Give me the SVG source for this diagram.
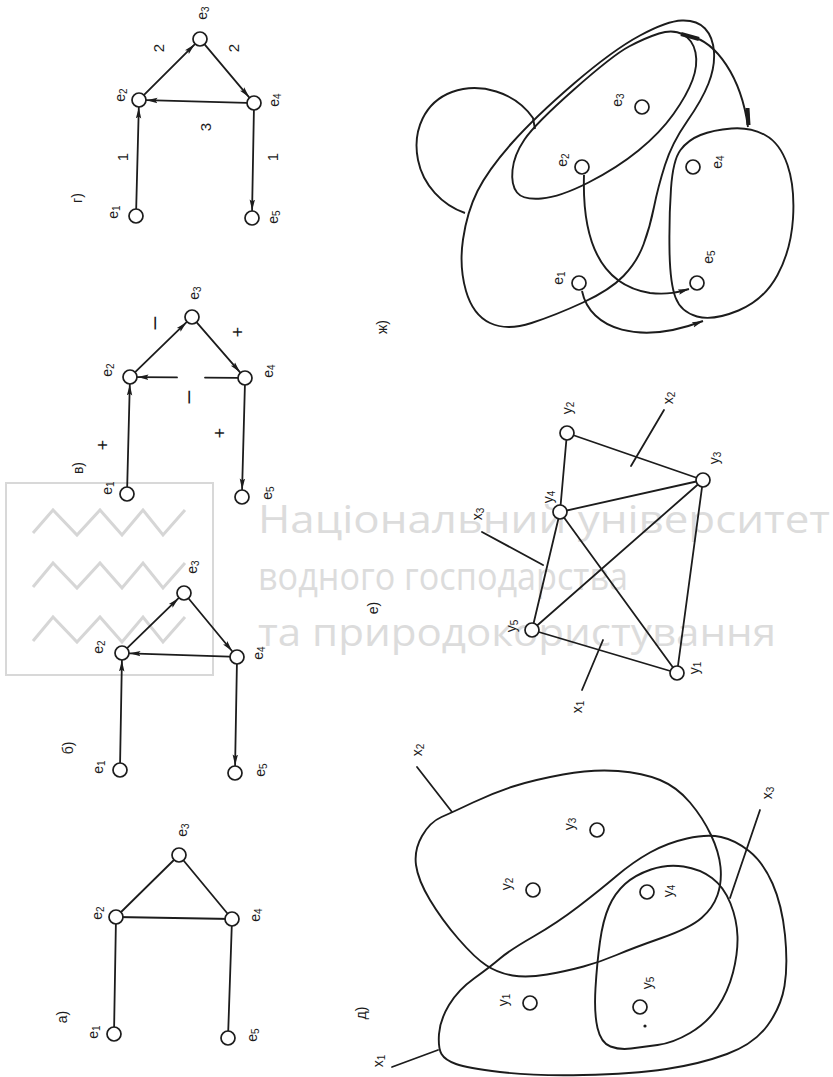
<svg xmlns="http://www.w3.org/2000/svg" width="833" height="1077" viewBox="0 0 833 1077">
<style>
.ln{stroke:#1c1c1c;stroke-width:1.8;fill:none;stroke-linecap:round}
.cv{stroke:#1c1c1c;stroke-width:1.9;fill:none}
.nd{fill:#fff;stroke:#1c1c1c;stroke-width:1.7}
.lb{font-family:"Liberation Sans",Arial,sans-serif;font-size:14px;fill:#1c1c1c;text-anchor:middle;dominant-baseline:central}
.sm{font-size:10px}
.pl{font-family:"Liberation Sans",Arial,sans-serif;font-size:14px;fill:#1c1c1c;text-anchor:middle;dominant-baseline:central}
.wl{font-family:"Open Sans","DejaVu Sans",sans-serif;font-size:38px;fill:#dcdcdc}
.wz{stroke:#d6d6d6;stroke-width:3;fill:none}
</style>
<defs>
<marker id="ar" markerUnits="userSpaceOnUse" markerWidth="12" markerHeight="7" refX="11" refY="3.5" orient="auto">
<path d="M0,0.8 L11,3.5 L0,6.2 L2,3.5 z" fill="#1c1c1c"/>
</marker>
</defs>
<rect width="833" height="1077" fill="#fff"/>
<g id="watermark">
<rect x="6" y="483" width="207" height="192" fill="none" stroke="#d8d8d8" stroke-width="2"/>
<polyline class="wz" points="33,533 53,510 77,535 100,510 122,535 143,510 163,535 185,510"/>
<polyline class="wz" points="33,587 53,563 77,588 100,563 122,588 143,563 163,588 185,563"/>
<polyline class="wz" points="33,641 53,617 77,642 100,617 122,642 143,617 163,642 185,617"/>
<text class="wl" x="258" y="533" textLength="572" lengthAdjust="spacingAndGlyphs">Національний університет</text>
<text class="wl" x="258" y="590" textLength="370" lengthAdjust="spacingAndGlyphs">водного господарства</text>
<text class="wl" x="258" y="646" textLength="518" lengthAdjust="spacingAndGlyphs">та природокористування</text>
</g>
<g id="connectors">
<line class="ln" x1="114" y1="1034" x2="116" y2="917"/>
<line class="ln" x1="116" y1="917" x2="179" y2="855"/>
<line class="ln" x1="179" y1="855" x2="232" y2="919"/>
<line class="ln" x1="116" y1="917" x2="232" y2="919"/>
<line class="ln" x1="232" y1="919" x2="228" y2="1038"/>
<line class="ln" x1="120.1" y1="762.5" x2="121.9" y2="660.5" marker-end="url(#ar)"/>
<line class="ln" x1="127.4" y1="647.8" x2="178.6" y2="598.2" marker-end="url(#ar)"/>
<line class="ln" x1="188.8" y1="598.8" x2="232.2" y2="651.2" marker-end="url(#ar)"/>
<line class="ln" x1="229.5" y1="656.7" x2="129.5" y2="653.3" marker-end="url(#ar)"/>
<line class="ln" x1="236.9" y1="664.5" x2="235.1" y2="765.5" marker-end="url(#ar)"/>
<line class="ln" x1="127.2" y1="486.5" x2="129.8" y2="384.5" marker-end="url(#ar)"/>
<line class="ln" x1="135.4" y1="371.8" x2="186.6" y2="322.2" marker-end="url(#ar)"/>
<line class="ln" x1="196.9" y1="322.7" x2="240.1" y2="372.3" marker-end="url(#ar)"/>
<line class="ln" x1="237.5" y1="377.9" x2="205" y2="377.6"/>
<line class="ln" x1="177" y1="377.4" x2="137.5" y2="377.1" marker-end="url(#ar)"/>
<line class="ln" x1="244.9" y1="385.5" x2="242.1" y2="489.5" marker-end="url(#ar)"/>
<line class="ln" x1="136.2" y1="208.5" x2="138.8" y2="107.5" marker-end="url(#ar)"/>
<line class="ln" x1="144.3" y1="94.7" x2="194.7" y2="44.3" marker-end="url(#ar)"/>
<line class="ln" x1="204.8" y1="44.7" x2="249.2" y2="97.3" marker-end="url(#ar)"/>
<line class="ln" x1="246.5" y1="102.8" x2="146.5" y2="100.2" marker-end="url(#ar)"/>
<line class="ln" x1="253.9" y1="110.5" x2="252.1" y2="210.5" marker-end="url(#ar)"/>
<line class="ln" x1="567" y1="433" x2="560" y2="512"/>
<line class="ln" x1="567" y1="433" x2="703" y2="480"/>
<line class="ln" x1="560" y1="512" x2="703" y2="480"/>
<line class="ln" x1="560" y1="512" x2="532" y2="630"/>
<line class="ln" x1="560" y1="512" x2="677" y2="673"/>
<line class="ln" x1="532" y1="630" x2="703" y2="480"/>
<line class="ln" x1="532" y1="630" x2="677" y2="673"/>
<line class="ln" x1="703" y1="480" x2="677" y2="673"/>
<line class="ln" x1="482" y1="532" x2="543" y2="565"/>
<line class="ln" x1="582" y1="690" x2="603" y2="640"/>
<line class="ln" x1="664" y1="410" x2="631" y2="466"/>
<path class="cv" d="M441.5,817 Q453,812 473,802.5 Q493,793 513,786.5 Q533,780 563,774.5 Q593,769 618,771 Q643,773 660,780 Q677,787 690,802.5 Q703,818 711,835 Q719,852 720.5,867 Q722,882 717.5,895 Q713,908 701.5,918 Q690,928 661.5,938 Q633,948 616.5,955 Q600,962 583.5,966.5 Q567,971 547,974.5 Q527,978 512.5,975.5 Q498,973 486.5,965.5 Q475,958 458.5,939 Q442,920 430,900 Q418,880 416,865 Q414,850 422,836 Q430,822 441.5,817 Z"/>
<path class="cv" d="M441.5,1054 Q438,1048 439,1034 Q440,1020 449,1005 Q458,990 474,978.5 Q490,967 500,958.5 Q510,950 533.5,936.5 Q557,923 578.5,906.5 Q600,890 616.5,876 Q633,862 650,852.5 Q667,843 687,838.5 Q707,834 721,837 Q735,840 749,851 Q763,862 772.5,883.5 Q782,905 785,935 Q788,965 784.5,986 Q781,1007 767.5,1025.5 Q754,1044 727,1054 Q700,1064 666.5,1069 Q633,1074 583,1075 Q533,1076 500,1072 Q467,1068 456,1064 Q445,1060 441.5,1054 Z"/>
<path class="cv" d="M595.5,988 Q597,963 600,941.5 Q603,920 609,906.5 Q615,893 625,884 Q635,875 651,869.5 Q667,864 683.5,866.5 Q700,869 712,878 Q724,887 730.5,903.5 Q737,920 737.5,936.5 Q738,953 733,972.5 Q728,992 717.5,1007.5 Q707,1023 690,1033 Q673,1043 657.5,1045 Q642,1047 631,1048.5 Q620,1050 610.5,1046.5 Q601,1043 597.5,1028 Q594,1013 595.5,988 Z"/>
<line class="ln" x1="392" y1="1067" x2="438" y2="1050"/>
<line class="ln" x1="417" y1="767" x2="452" y2="812"/>
<line class="ln" x1="760" y1="810" x2="730" y2="898"/>
<path class="cv" d="M463,239.5 Q467,212 477.5,191 Q488,170 511.5,143.5 Q535,117 574,83.5 Q613,50 640,35.5 Q667,21 682,20.5 Q697,20 705,28.5 Q713,37 714,52 Q715,67 708.5,83.5 Q702,100 687,121.5 Q672,143 665,165 Q658,187 654,207 Q650,227 643.5,244.5 Q637,262 623.5,276 Q610,290 583,302.5 Q556,315 531.5,323 Q507,331 490,323 Q473,315 466,291 Q459,267 463,239.5 Z"/>
<path class="cv" d="M517,192.5 Q523,200 541.5,198.5 Q560,197 588.5,182.5 Q617,168 638.5,150.5 Q660,133 673.5,114 Q687,95 692.5,80 Q698,65 695.5,52.5 Q693,40 683,34.5 Q673,29 659,33.5 Q645,38 629,46.5 Q613,55 574,89.5 Q535,124 524.5,139.5 Q514,155 512.5,170 Q511,185 517,192.5 Z"/>
<path class="cv" d="M765,135 Q780,143 787.5,165 Q795,187 793,218.5 Q791,250 777.5,275 Q764,300 738.5,310.5 Q713,321 697,316.5 Q681,312 675.5,297.5 Q670,283 669.5,250 Q669,217 671,188.5 Q673,160 680.5,150 Q688,140 700.5,135 Q713,130 731.5,128.5 Q750,127 765,135 Z"/>
<path class="cv" d="M535,129 L533,118 C515,92 480,82 452,92 C425,102 412,130 418,160 C423,185 442,205 465,213"/>
<path class="cv" d="M690,36 C716,42 741,76 748,127"/>
<line x1="681" y1="34" x2="699" y2="39" stroke="#1c1c1c" stroke-width="4"/>
<line x1="747.5" y1="108" x2="748.5" y2="125" stroke="#1c1c1c" stroke-width="4"/>
<path class="cv" d="M584,175 C582,240 600,285 650,293 C668,295 679,292 689,289" marker-end="url(#ar)"/>
<path class="cv" d="M582,291 C590,330 640,345 703,321" marker-end="url(#ar)"/>
</g>
<g id="panel-a">
<circle class="nd" cx="114" cy="1034" r="7"/><circle class="nd" cx="116" cy="917" r="7"/><circle class="nd" cx="179" cy="855" r="7"/><circle class="nd" cx="232" cy="919" r="7"/><circle class="nd" cx="228" cy="1038" r="7"/>
<text class="lb" x="93" y="1032" transform="rotate(-90 93 1032)">e<tspan class="sm" dy="3">1</tspan></text>
<text class="lb" x="97" y="913" transform="rotate(-90 97 913)">e<tspan class="sm" dy="3">2</tspan></text>
<text class="lb" x="182" y="830" transform="rotate(-90 182 830)">e<tspan class="sm" dy="3">3</tspan></text>
<text class="lb" x="255" y="915" transform="rotate(-90 255 915)">e<tspan class="sm" dy="3">4</tspan></text>
<text class="lb" x="252" y="1035" transform="rotate(-90 252 1035)">e<tspan class="sm" dy="3">5</tspan></text>
<text class="pl" x="62" y="1017" transform="rotate(-90 62 1017)">а)</text>
</g>
<g id="panel-b">
<circle class="nd" cx="120" cy="770" r="7"/><circle class="nd" cx="122" cy="653" r="7"/><circle class="nd" cx="184" cy="593" r="7"/><circle class="nd" cx="237" cy="657" r="7"/><circle class="nd" cx="235" cy="773" r="7"/>
<text class="lb" x="98" y="767" transform="rotate(-90 98 767)">e<tspan class="sm" dy="3">1</tspan></text>
<text class="lb" x="98" y="647" transform="rotate(-90 98 647)">e<tspan class="sm" dy="3">2</tspan></text>
<text class="lb" x="192" y="567" transform="rotate(-90 192 567)">e<tspan class="sm" dy="3">3</tspan></text>
<text class="lb" x="258" y="653" transform="rotate(-90 258 653)">e<tspan class="sm" dy="3">4</tspan></text>
<text class="lb" x="260" y="770" transform="rotate(-90 260 770)">e<tspan class="sm" dy="3">5</tspan></text>
<text class="pl" x="68" y="748" transform="rotate(-90 68 748)">б)</text>
</g>
<g id="panel-v">
<circle class="nd" cx="127" cy="494" r="7"/><circle class="nd" cx="130" cy="377" r="7"/><circle class="nd" cx="192" cy="317" r="7"/><circle class="nd" cx="245" cy="378" r="7"/><circle class="nd" cx="242" cy="497" r="7"/>
<text class="lb" x="107" y="488" transform="rotate(-90 107 488)">e<tspan class="sm" dy="3">1</tspan></text>
<text class="lb" x="107" y="370" transform="rotate(-90 107 370)">e<tspan class="sm" dy="3">2</tspan></text>
<text class="lb" x="194" y="293" transform="rotate(-90 194 293)">e<tspan class="sm" dy="3">3</tspan></text>
<text class="lb" x="268" y="371" transform="rotate(-90 268 371)">e<tspan class="sm" dy="3">4</tspan></text>
<text class="lb" x="267" y="493" transform="rotate(-90 267 493)">e<tspan class="sm" dy="3">5</tspan></text>
<text class="pl" x="78" y="468" transform="rotate(-90 78 468)">в)</text>
<text class="lb" style="font-size:23px" x="153" y="323" transform="rotate(-90 153 323)">–</text>
<text class="lb" style="font-size:18px" x="238" y="332" transform="rotate(-90 238 332)">+</text>
<text class="lb" style="font-size:23px" x="187" y="397" transform="rotate(-90 187 397)">–</text>
<text class="lb" style="font-size:18px" x="103" y="445" transform="rotate(-90 103 445)">+</text>
<text class="lb" style="font-size:18px" x="220" y="433" transform="rotate(-90 220 433)">+</text>
</g>
<g id="panel-g">
<circle class="nd" cx="136" cy="216" r="7"/><circle class="nd" cx="139" cy="100" r="7"/><circle class="nd" cx="200" cy="39" r="7"/><circle class="nd" cx="254" cy="103" r="7"/><circle class="nd" cx="252" cy="218" r="7"/>
<text class="lb" x="113" y="212" transform="rotate(-90 113 212)">e<tspan class="sm" dy="3">1</tspan></text>
<text class="lb" x="120" y="95" transform="rotate(-90 120 95)">e<tspan class="sm" dy="3">2</tspan></text>
<text class="lb" x="202" y="13" transform="rotate(-90 202 13)">e<tspan class="sm" dy="3">3</tspan></text>
<text class="lb" x="274" y="100" transform="rotate(-90 274 100)">e<tspan class="sm" dy="3">4</tspan></text>
<text class="lb" x="273" y="217" transform="rotate(-90 273 217)">e<tspan class="sm" dy="3">5</tspan></text>
<text class="pl" x="77" y="198" transform="rotate(-90 77 198)">г)</text>
<text class="lb" style="font-size:15px" x="158" y="48" transform="rotate(-90 158 48)">2</text>
<text class="lb" style="font-size:15px" x="233" y="48" transform="rotate(-90 233 48)">2</text>
<text class="lb" style="font-size:15px" x="205" y="127" transform="rotate(-90 205 127)">3</text>
<text class="lb" style="font-size:15px" x="122" y="157" transform="rotate(-90 122 157)">1</text>
<text class="lb" style="font-size:15px" x="272" y="157" transform="rotate(-90 272 157)">1</text>
</g>
<g id="panel-d">
<circle class="nd" cx="530" cy="1003" r="7"/><circle class="nd" cx="533" cy="890" r="7"/><circle class="nd" cx="597" cy="830" r="7"/><circle class="nd" cx="647" cy="892" r="7"/><circle class="nd" cx="640" cy="1007" r="7"/>
<circle cx="645" cy="1026" r="1.6" fill="#1c1c1c"/>
<text class="lb" x="503" y="1000" transform="rotate(-90 503 1000)">y<tspan class="sm" dy="3">1</tspan></text>
<text class="lb" x="506" y="884" transform="rotate(-90 506 884)">y<tspan class="sm" dy="3">2</tspan></text>
<text class="lb" x="569" y="824" transform="rotate(-90 569 824)">y<tspan class="sm" dy="3">3</tspan></text>
<text class="lb" x="668" y="891" transform="rotate(-90 668 891)">y<tspan class="sm" dy="3">4</tspan></text>
<text class="lb" x="647" y="983" transform="rotate(-90 647 983)">y<tspan class="sm" dy="3">5</tspan></text>
<text class="lb" x="378" y="1061" transform="rotate(-90 378 1061)">x<tspan class="sm" dy="3">1</tspan></text>
<text class="lb" x="417" y="750" transform="rotate(-90 417 750)">x<tspan class="sm" dy="3">2</tspan></text>
<text class="lb" x="767" y="793" transform="rotate(-90 767 793)">x<tspan class="sm" dy="3">3</tspan></text>
<text class="pl" x="361" y="1013" transform="rotate(-90 361 1013)">д)</text>
</g>
<g id="panel-e">
<circle class="nd" cx="677" cy="673" r="7"/><circle class="nd" cx="567" cy="433" r="7"/><circle class="nd" cx="703" cy="480" r="7"/><circle class="nd" cx="560" cy="512" r="7"/><circle class="nd" cx="532" cy="630" r="7"/>
<text class="lb" x="694" y="668" transform="rotate(-90 694 668)">y<tspan class="sm" dy="3">1</tspan></text>
<text class="lb" x="567" y="408" transform="rotate(-90 567 408)">y<tspan class="sm" dy="3">2</tspan></text>
<text class="lb" x="714" y="458" transform="rotate(-90 714 458)">y<tspan class="sm" dy="3">3</tspan></text>
<text class="lb" x="548" y="497" transform="rotate(-90 548 497)">y<tspan class="sm" dy="3">4</tspan></text>
<text class="lb" x="511" y="626" transform="rotate(-90 511 626)">y<tspan class="sm" dy="3">5</tspan></text>
<text class="lb" x="577" y="707" transform="rotate(-90 577 707)">x<tspan class="sm" dy="3">1</tspan></text>
<text class="lb" x="668" y="398" transform="rotate(-90 668 398)">x<tspan class="sm" dy="3">2</tspan></text>
<text class="lb" x="477" y="514" transform="rotate(-90 477 514)">x<tspan class="sm" dy="3">3</tspan></text>
<text class="pl" x="373" y="608" transform="rotate(-90 373 608)">е)</text>
</g>
<g id="panel-zh">
<circle class="nd" cx="642" cy="107" r="7"/><circle class="nd" cx="582" cy="167" r="7"/><circle class="nd" cx="693" cy="167" r="7"/><circle class="nd" cx="697" cy="283" r="7"/><circle class="nd" cx="579" cy="283" r="7"/>
<text class="lb" x="617" y="100" transform="rotate(-90 617 100)">e<tspan class="sm" dy="3">3</tspan></text>
<text class="lb" x="562" y="160" transform="rotate(-90 562 160)">e<tspan class="sm" dy="3">2</tspan></text>
<text class="lb" x="717" y="162" transform="rotate(-90 717 162)">e<tspan class="sm" dy="3">4</tspan></text>
<text class="lb" x="708" y="257" transform="rotate(-90 708 257)">e<tspan class="sm" dy="3">5</tspan></text>
<text class="lb" x="558" y="278" transform="rotate(-90 558 278)">e<tspan class="sm" dy="3">1</tspan></text>
<text class="pl" x="382" y="327" transform="rotate(-90 382 327)">ж)</text>
</g>
</svg>
